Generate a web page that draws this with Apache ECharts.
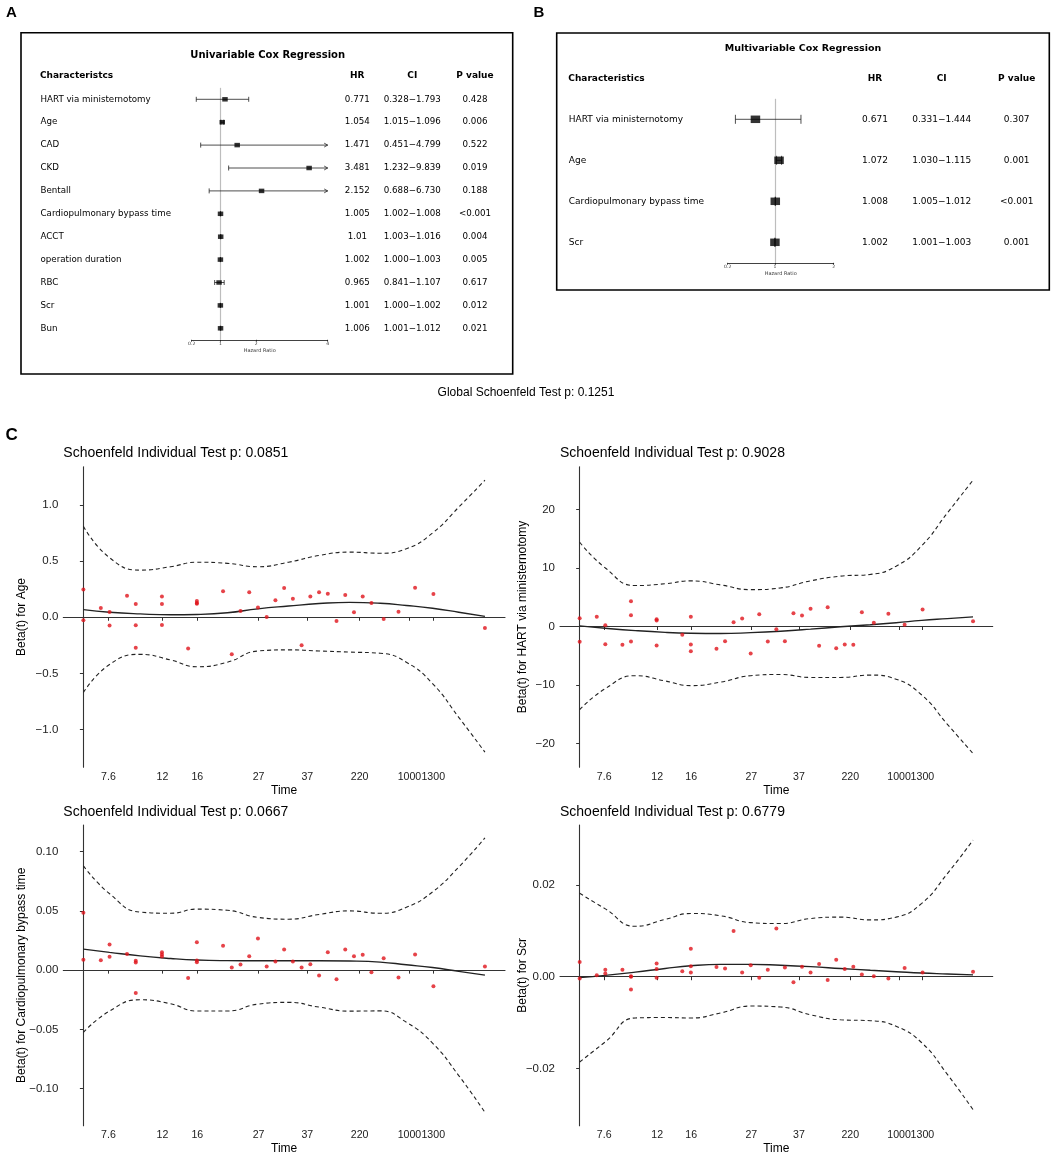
<!DOCTYPE html>
<html><head><meta charset="utf-8">
<script src="https://cdn.jsdelivr.net/npm/echarts@6/dist/echarts.min.js"></script>
<style>html,body{margin:0;padding:0;background:#fff}#c{width:1053px;height:1156px}</style>
</head><body><div id="c"></div>
<script>
// ---------- Panel A: univariable Cox regression ----------
const labelsA = ['HART via ministernotomy','Age','CAD','CKD','Bentall','Cardiopulmonary bypass time','ACCT','operation duration','RBC','Scr','Bun'];
const hrA = [0.771,1.054,1.471,3.481,2.152,1.005,1.01,1.002,0.965,1.001,1.006];
const boxA = [1.13,1.054,1.471,3.481,2.152,1.005,1.01,1.002,0.965,1.001,1.006]; // square positions as drawn
const loA = [0.328,1.015,0.451,1.232,0.688,1.002,1.003,1.000,0.841,1.000,1.001];
const hiA = [1.793,1.096,4.799,9.839,6.730,1.008,1.016,1.003,1.107,1.002,1.012];
const pA = ['0.428','0.006','0.522','0.019','0.188','<0.001','0.004','0.005','0.617','0.012','0.021'];
const ticksA = [0.2,1,2,4];

// ---------- Panel B: multivariable Cox regression ----------
const labelsB = ['HART via ministernotomy','Age','Cardiopulmonary bypass time','Scr'];
const hrB = [0.671,1.072,1.008,1.002];
const loB = [0.331,1.030,1.005,1.001];
const hiB = [1.444,1.115,1.012,1.003];
const pB = ['0.307','0.001','<0.001','0.001'];
const ticksB = [0.2,1,2];

// ---------- Panel C: Schoenfeld residuals ----------
const xTickPos = [2.87,9.06,13.05,20.07,25.65,31.65,37.35,40.08];
const xTickLabels = ['7.6','12','16','27','37','220','1000','1300'];
const eventRank = [0,0,2,3,3,5,6,6,6,9,9,9,12,13,13,13,16,17,18,19,20,21,22,23,24,25,26,27,28,29,30,31,32,33,34.4,36.1,38,40.1,46];
const curveX = [0,3,6.5,10,13,16.5,20,23.5,27,30.5,34,37,40,43,46];

const residAge = [0.248,-0.027,0.083,0.047,-0.074,0.192,0.118,-0.071,-0.272,0.186,0.118,-0.068,-0.278,0.145,0.121,0.128,
  0.231,-0.328,0.056,0.222,0.086,0.003,0.151,0.26,0.166,-0.249,0.186,0.222,0.21,-0.033,0.198,0.044,0.186,0.127,
  -0.015,0.05,0.263,0.207,-0.095];
const fitAge = [0.068,0.045,0.03,0.022,0.025,0.04,0.075,0.10,0.122,0.133,0.125,0.105,0.08,0.045,0.008];
const upAge = [0.81,0.53,0.42,0.45,0.49,0.48,0.45,0.49,0.55,0.58,0.57,0.61,0.75,0.98,1.22];
const loAge = [-0.67,-0.42,-0.33,-0.38,-0.44,-0.40,-0.30,-0.29,-0.30,-0.31,-0.32,-0.40,-0.59,-0.89,-1.20];
const yTicksAge = [-1,-0.5,0,0.5,1];
const yLabelsAge = ['\u22121.0','\u22120.5','0.0','0.5','1.0'];

const residHART = [1.42,-2.62,1.65,0.23,-3.02,-3.13,4.33,1.94,-2.56,1.25,1.03,-3.25,-1.42,1.65,-3.08,-4.21,
  -3.82,-2.51,0.74,1.37,-4.61,2.11,-2.56,-0.46,-2.51,2.28,1.88,3.02,-3.30,3.30,-3.70,-3.08,-3.13,2.45,
  0.63,2.16,0.28,2.90,0.91];
const fitHART = [0.11,-0.3,-0.7,-1.0,-1.15,-1.2,-1.05,-0.8,-0.45,-0.05,0.3,0.65,1.05,1.35,1.65];
const upHART = [14.4,10.0,7.0,7.3,7.8,7.1,6.3,6.6,7.8,8.6,8.9,10.3,13.8,19.4,25.0];
const loHART = [-14.2,-10.6,-8.4,-9.3,-10.1,-9.5,-8.4,-8.2,-8.7,-8.7,-8.3,-9.0,-11.7,-16.7,-21.7];
const yTicksHART = [-20,-10,0,10,20];
const yLabelsHART = ['\u221220','\u221210','0','10','20'];

const residCPB = [0.0485,0.0087,0.0084,0.0216,0.0112,0.0137,0.0079,0.0064,-0.0193,0.0151,0.0132,0.0115,-0.0067,0.0236,0.0081,0.0067,
  0.0205,0.0022,0.0048,0.0118,0.0266,0.0031,0.0073,0.0174,0.0073,0.0022,0.005,-0.0045,0.0151,-0.0076,0.0174,0.0118,0.0129,-0.0017,
  0.0101,-0.0062,0.0132,-0.0137,0.0031];
const fitCPB = [0.0177,0.0150,0.0120,0.0098,0.0085,0.0080,0.0079,0.0079,0.0079,0.0077,0.0068,0.0045,0.0022,-0.0010,-0.0042];
const upCPB = [0.088,0.0645,0.049,0.048,0.0515,0.0505,0.0445,0.043,0.047,0.050,0.048,0.053,0.066,0.087,0.1116];
const loCPB = [-0.0526,-0.0345,-0.025,-0.0284,-0.0345,-0.0345,-0.0287,-0.0272,-0.0312,-0.0346,-0.0344,-0.044,-0.0616,-0.089,-0.12];
const yTicksCPB = [-0.1,-0.05,0,0.05,0.1];
const yLabelsCPB = ['\u22120.10','\u22120.05','0.00','0.05','0.10'];

const residScr = [0.0032,-0.0004,0.0003,0.0015,0.0007,0.0015,0.0,-0.0028,0.0001,0.0029,0.0017,-0.0002,0.0012,0.0061,0.0023,0.0009,
  0.0021,0.0018,0.01,0.0009,0.0025,-0.0002,0.0015,0.0105,0.002,-0.0012,0.0022,0.0009,0.0028,-0.0007,0.0037,0.0017,0.0022,0.0005,
  0.0001,-0.0004,0.0019,0.0009,0.0011];
const fitScr = [-0.0002,0.0003,0.0010,0.0018,0.0024,0.0027,0.0027,0.0025,0.0022,0.0018,0.0014,0.0011,0.0008,0.0006,0.0004];
const upScr = [0.0182,0.0148,0.011,0.0125,0.0138,0.0133,0.0118,0.0116,0.0127,0.013,0.0124,0.013,0.016,0.0225,0.0298];
const loScr = [-0.0186,-0.0142,-0.009,-0.0089,-0.009,-0.0079,-0.0064,-0.0066,-0.0083,-0.0094,-0.0096,-0.0108,-0.0144,-0.0213,-0.029];
const yTicksScr = [-0.02,0,0.02];
const yLabelsScr = ['\u22120.02','0.00','0.02'];

const titlesC = ['Schoenfeld Individual Test p: 0.0851','Schoenfeld Individual Test p: 0.9028',
                 'Schoenfeld Individual Test p: 0.0667','Schoenfeld Individual Test p: 0.6779'];
const yNamesC = ['Beta(t) for Age','Beta(t) for HART via ministernotomy','Beta(t) for Cardiopulmonary bypass time','Beta(t) for Scr'];
const globalTitle = 'Global Schoenfeld Test p: 0.1251';

// ---------- helpers ----------
const FONT_C = "'Liberation Sans', Arial, Helvetica, sans-serif";
const FONT_F = "'DejaVu Sans', sans-serif";
const X_MIN = -2.3, X_MAX = 48.3;

function errRender(capHalf, arrow, xMin, xMax) {
  return function (params, api) {
    const lo = api.value(0), hi = api.value(1), row = api.value(2);
    const p1 = api.coord([Math.max(lo, xMin), row]);
    const p2 = api.coord([Math.min(hi, xMax), row]);
    const st = {stroke: '#222', lineWidth: 0.8, fill: 'none'};
    const ch = [{type: 'line', shape: {x1: p1[0], y1: p1[1], x2: p2[0], y2: p2[1]}, style: st}];
    if (lo >= xMin) ch.push({type: 'line', shape: {x1: p1[0], y1: p1[1] - capHalf, x2: p1[0], y2: p1[1] + capHalf}, style: st});
    if (hi <= xMax) ch.push({type: 'line', shape: {x1: p2[0], y1: p2[1] - capHalf, x2: p2[0], y2: p2[1] + capHalf}, style: st});
    else ch.push({type: 'polyline', shape: {points: [[p2[0] - arrow, p2[1] - arrow * 0.55], [p2[0], p2[1]], [p2[0] - arrow, p2[1] + arrow * 0.55]]}, style: st});
    return {type: 'group', children: ch};
  };
}

function textSeries(axisIdx, x, texts, pos, size) {
  return {
    type: 'scatter', xAxisIndex: axisIdx, yAxisIndex: axisIdx, silent: true, symbolSize: 1,
    itemStyle: {color: '#fff', opacity: 0}, z: 5,
    data: texts.map((t, i) => ({value: [x, i], name: t})),
    label: {show: true, position: pos, distance: 0, formatter: '{b}', fontSize: size, fontFamily: FONT_F,
            color: '#000', opacity: 1, textBorderWidth: 0}
  };
}

function forestX(gi, min, max, ticks) {
  return {type: 'value', gridIndex: gi, min: min, max: max,
    axisLine: {show: true, lineStyle: {color: '#111', width: 0.8}},
    axisTick: {show: true, length: 2, customValues: ticks, lineStyle: {color: '#111', width: 0.7}},
    axisLabel: {customValues: ticks, fontSize: 4.5, margin: 2, color: '#333', fontFamily: FONT_F, hideOverlap: false,
                showMinLabel: true, showMaxLabel: true},
    splitLine: {show: false},
    name: 'Hazard Ratio', nameLocation: 'middle', nameGap: 8, nameMoveOverlap: false,
    nameTextStyle: {fontSize: 5, color: '#333', fontFamily: FONT_F}};
}
function hiddenCat(gi, data) {
  return {type: 'category', gridIndex: gi, data: data, inverse: true, show: false, boundaryGap: true};
}
function pixelX(gi) { return {type: 'value', gridIndex: gi, min: 0, max: 1053, show: false}; }

function nearestLabel(ticks, labels, v) {
  let k = 0, d = 1e9;
  ticks.forEach((p, i) => { if (Math.abs(p - v) < d) { d = Math.abs(p - v); k = i; } });
  return d < 0.5 ? labels[k] : '';
}
function cX(gi) {
  // an empty placeholder label at the axis end keeps the real end labels from being auto-hidden
  const labelVals = xTickPos.concat([X_MAX]);
  return {type: 'value', gridIndex: gi, min: X_MIN, max: X_MAX,
    axisLine: {show: true, lineStyle: {color: '#333', width: 1.1}},
    axisTick: {show: true, length: 3.5, customValues: xTickPos, lineStyle: {color: '#333', width: 1}},
    axisLabel: {customValues: labelVals, fontSize: 10.6, color: '#222', margin: 4, fontFamily: FONT_C, hideOverlap: false,
      formatter: v => nearestLabel(xTickPos, xTickLabels, v)},
    splitLine: {show: false},
    name: 'Time', nameLocation: 'middle', nameGap: 17, nameMoveOverlap: false,
    nameTextStyle: {fontSize: 12, color: '#000', fontFamily: FONT_C}};
}
function cY(gi, min, max, ticks, labels, name, gap) {
  return {type: 'value', gridIndex: gi, min: min, max: max,
    axisLine: {show: true, lineStyle: {color: '#333', width: 1.1}},
    axisTick: {show: true, length: 3.5, customValues: ticks, lineStyle: {color: '#333', width: 1}},
    axisLabel: {customValues: ticks, fontSize: 11.5, color: '#222', margin: 5, fontFamily: FONT_C, hideOverlap: false,
      showMinLabel: true, showMaxLabel: true,
      formatter: v => nearestLabel(ticks, labels, v)},
    splitLine: {show: false},
    name: name, nameLocation: 'middle', nameRotate: 90, nameGap: gap, nameMoveOverlap: false,
    nameTextStyle: {fontSize: 12, color: '#000', fontFamily: FONT_C}};
}
function cSeries(gi, resid, fit, up, lo) {
  const dash = {color: '#222', width: 1.1, type: [4, 3]};
  return [
    {type: 'line', xAxisIndex: gi, yAxisIndex: gi, data: curveX.map((x, i) => [x, up[i]]), smooth: true, symbol: 'none', lineStyle: dash, silent: true, z: 2},
    {type: 'line', xAxisIndex: gi, yAxisIndex: gi, data: curveX.map((x, i) => [x, lo[i]]), smooth: true, symbol: 'none', lineStyle: dash, silent: true, z: 2},
    {type: 'line', xAxisIndex: gi, yAxisIndex: gi, data: curveX.map((x, i) => [x, fit[i]]), smooth: true, symbol: 'none', lineStyle: {color: '#222', width: 1.4}, silent: true, z: 2},
    {type: 'scatter', xAxisIndex: gi, yAxisIndex: gi, data: eventRank.map((x, i) => [x, resid[i]]), symbolSize: 4, itemStyle: {color: '#e0141c'}, silent: true, z: 3}
  ];
}
function gText(x, y, text, size, bold, align, font) {
  return {type: 'text', x: x, y: y, silent: true,
    style: {text: text, fill: '#000', align: align || 'left', verticalAlign: 'middle',
            font: (bold ? 'bold ' : '') + size + 'px ' + (font || FONT_F)}};
}

// ---------- layout ----------
const grids = [
  {left: 191.7, top: 87.85, width: 136, height: 251.9},      // 0 A forest
  {left: 0, top: 87.85, width: 1053, height: 251.9},         // 1 A text
  {left: 727.7, top: 98.8, width: 106, height: 164},         // 2 B forest
  {left: 0, top: 98.8, width: 1053, height: 164},            // 3 B text
  {left: 63.3, top: 466.7, width: 441.7, height: 300.6},     // 4 C TL
  {left: 560, top: 466.7, width: 432.7, height: 300.6},      // 5 C TR
  {left: 63.3, top: 825, width: 441.7, height: 300.7},       // 6 C BL
  {left: 560, top: 825, width: 432.7, height: 300.7}         // 7 C BR
];

const xAxes = [forestX(0, 0.2, 4, ticksA), pixelX(1), forestX(2, 0.2, 2, ticksB), pixelX(3), cX(4), cX(5), cX(6), cX(7)];
const yAxes = [hiddenCat(0, labelsA), hiddenCat(1, labelsA), hiddenCat(2, labelsB), hiddenCat(3, labelsB),
  cY(4, -1.335, 1.34, yTicksAge, yLabelsAge, yNamesC[0], 35.5),
  cY(5, -24.05, 27.3, yTicksHART, yLabelsHART, yNamesC[1], 31),
  cY(6, -0.1313, 0.1225, yTicksCPB, yLabelsCPB, yNamesC[2], 35.5),
  cY(7, -0.0325, 0.0331, yTicksScr, yLabelsScr, yNamesC[3], 31)];

const refLine = (ai) => ({type: 'line', xAxisIndex: ai, yAxisIndex: ai, data: [], silent: true, z: 1,
  markLine: {silent: true, symbol: 'none', animation: false, label: {show: false},
    lineStyle: {color: '#bdbdbd', width: 1.2, type: 'solid'}, data: [{xAxis: 1}]}});

const fmt3 = v => v.toFixed(3);
const series = [
  refLine(0),
  {type: 'custom', xAxisIndex: 0, yAxisIndex: 0, renderItem: errRender(2.5, 3.5, 0.2, 4), encode: {x: [0, 1], y: 2},
   data: loA.map((v, i) => [v, hiA[i], i]), z: 2, zlevel: 1, silent: true},
  {type: 'scatter', xAxisIndex: 0, yAxisIndex: 0, symbol: 'rect', symbolSize: [5.5, 4.5], itemStyle: {color: '#000'},
   data: boxA.map((v, i) => [v, i]), z: 3, zlevel: 1, silent: true},
  textSeries(1, 40, labelsA, 'right', 8.7),
  textSeries(1, 357.3, hrA.map(String), 'inside', 8.7),
  textSeries(1, 412.3, loA.map((v, i) => fmt3(v) + '\u2212' + fmt3(hiA[i])), 'inside', 8.7),
  textSeries(1, 475, pA, 'inside', 8.7),

  refLine(2),
  {type: 'custom', xAxisIndex: 2, yAxisIndex: 2, renderItem: errRender(4.5, 4, 0.2, 2), encode: {x: [0, 1], y: 2},
   data: loB.map((v, i) => [v, hiB[i], i]), z: 2, zlevel: 1, silent: true},
  {type: 'scatter', xAxisIndex: 2, yAxisIndex: 2, symbol: 'rect', symbolSize: [9.5, 7.5], itemStyle: {color: '#000'},
   data: hrB.map((v, i) => [v, i]), z: 3, zlevel: 1, silent: true},
  textSeries(3, 568.3, labelsB, 'right', 9),
  textSeries(3, 875, hrB.map(String), 'inside', 9),
  textSeries(3, 941.7, loB.map((v, i) => fmt3(v) + '\u2212' + fmt3(hiB[i])), 'inside', 9),
  textSeries(3, 1016.7, pB, 'inside', 9),

  ...cSeries(4, residAge, fitAge, upAge, loAge),
  ...cSeries(5, residHART, fitHART, upHART, loHART),
  ...cSeries(6, residCPB, fitCPB, upCPB, loCPB),
  ...cSeries(7, residScr, fitScr, upScr, loScr)
];

const graphic = [
  {type: 'rect', shape: {x: 21, y: 32.7, width: 491.7, height: 341.3}, style: {fill: 'none', stroke: '#000', lineWidth: 1.6}, silent: true},
  {type: 'rect', shape: {x: 556.7, y: 33, width: 492.6, height: 257}, style: {fill: 'none', stroke: '#000', lineWidth: 1.6}, silent: true},
  gText(11.5, 12.5, 'A', 15, true, 'center', FONT_C),
  gText(539, 12.5, 'B', 15, true, 'center', FONT_C),
  gText(11.7, 435.3, 'C', 17, true, 'center', FONT_C),
  gText(267.7, 55, 'Univariable Cox Regression', 10, true, 'center'),
  gText(40, 75.7, 'Characteristcs', 9, true, 'left'),
  gText(357.3, 75.7, 'HR', 9, true, 'center'),
  gText(412.3, 75.7, 'CI', 9, true, 'center'),
  gText(475, 75.7, 'P value', 9, true, 'center'),
  gText(803, 48.3, 'Multivariable Cox Regression', 9.5, true, 'center'),
  gText(568.3, 78.3, 'Characteristics', 9, true, 'left'),
  gText(875, 78.3, 'HR', 9, true, 'center'),
  gText(941.7, 78.3, 'CI', 9, true, 'center'),
  gText(1016.7, 78.3, 'P value', 9, true, 'center'),
  gText(526, 393, globalTitle, 12, false, 'center', FONT_C),
  gText(63.3, 452.7, titlesC[0], 14, false, 'left', FONT_C),
  gText(560, 452.7, titlesC[1], 14, false, 'left', FONT_C),
  gText(63.3, 811.7, titlesC[2], 14, false, 'left', FONT_C),
  gText(560, 811.7, titlesC[3], 14, false, 'left', FONT_C)
];

const chart = echarts.init(document.getElementById('c'), null, {renderer: 'canvas'});
chart.setOption({
  backgroundColor: '#fff', animation: false,
  grid: grids, xAxis: xAxes, yAxis: yAxes, series: series, graphic: graphic
});
</script></body></html>
